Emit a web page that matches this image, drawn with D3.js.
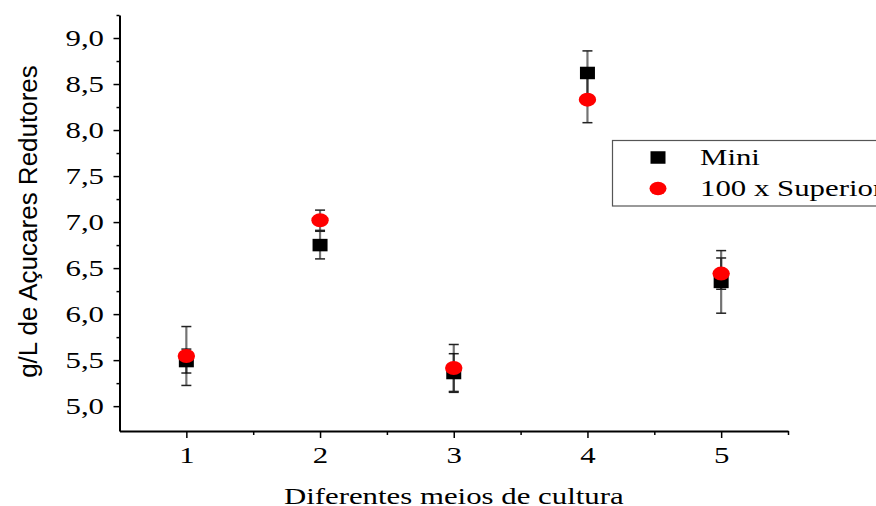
<!DOCTYPE html>
<html>
<head>
<meta charset="utf-8">
<script src="https://cdn.jsdelivr.net/npm/d3@7"></script>
<style>
  body { margin: 0; background: #fff; }
  svg { display: block; }
</style>
</head>
<body>
<script>
// Culture media on the x axis, reducing sugars (g/L) for each condition
const categories = [1, 2, 3, 4, 5];
const seriesNames = ["Mini", "100 x Superior"];
const miniValues = [5.49, 6.75, 5.36, 8.62, 6.35];
const miniErrors = [0.13, 0.15, 0.21, 0.24, 0.34];
const superiorValues = [5.545, 7.02, 5.415, 8.33, 6.44];
const superiorErrors = [0.32, 0.11, 0.255, 0.25, 0.17];
const yTicks = [5.0, 5.5, 6.0, 6.5, 7.0, 7.5, 8.0, 8.5, 9.0];
const yMinorTicks = [5.25, 5.75, 6.25, 6.75, 7.25, 7.75, 8.25, 8.75, 9.25];
const xTicks = [1, 2, 3, 4, 5];
const xMinorTicks = [1.5, 2.5, 3.5, 4.5, 5.5];
const xTitle = "Diferentes meios de cultura";
const yTitle = "g/L de Açucares Redutores";

const W = 876, H = 506;
const serif = "'Liberation Serif','Times New Roman',serif";
const sans = "'Liberation Sans',Arial,sans-serif";
const stretch = 1.34;           // wide serif lettering
const fmt = d => d3.format(".1f")(d).replace(".", ",");

const svg = d3.select("body").append("svg")
  .attr("width", W).attr("height", H);

const x = d3.scaleLinear().domain([0.5, 5.5]).range([119.5, 788]);
const y = d3.scaleLinear().domain([4.73, 9.25]).range([431, 15]);

// ---- axes ----
const x0 = x.range()[0], y0 = y.range()[0];

const yMinor = svg.append("g").attr("transform", `translate(${x0},0)`)
  .call(d3.axisLeft(y).tickValues(yMinorTicks).tickSize(3).tickSizeOuter(0).tickFormat(""));
yMinor.select(".domain").remove();

const yAxis = svg.append("g").attr("transform", `translate(${x0},0)`)
  .call(d3.axisLeft(y).tickValues(yTicks).tickSize(6).tickSizeOuter(0).tickFormat(fmt));
yAxis.selectAll("text")
  .attr("x", -15.5 / stretch)
  .attr("dy", "0.33em")
  .attr("transform", `scale(${stretch},1)`);

const xMinor = svg.append("g").attr("transform", `translate(0,${y0})`)
  .call(d3.axisBottom(x).tickValues(xMinorTicks).tickSize(4).tickSizeOuter(0).tickFormat(""));
xMinor.select(".domain").remove();

const xAxis = svg.append("g").attr("transform", `translate(0,${y0})`)
  .call(d3.axisBottom(x).tickValues(xTicks).tickSize(7).tickSizeOuter(0).tickFormat(d3.format("d")));
xAxis.selectAll("text")
  .attr("y", 32)
  .attr("dy", 0)
  .attr("transform", `scale(${stretch},1)`);

svg.selectAll(".domain").attr("stroke", "#000").attr("stroke-width", 2);
svg.selectAll(".tick line").attr("stroke", "#000").attr("stroke-width", 1.5);
svg.selectAll(".tick text")
  .attr("font-family", serif).attr("font-size", 23).attr("fill", "#000");

// ---- axis titles ----
svg.append("text")
  .attr("transform", `translate(${(x.range()[0] + x.range()[1]) / 2},504) scale(${stretch},1)`)
  .attr("text-anchor", "middle")
  .attr("font-family", serif).attr("font-size", 23).attr("fill", "#000")
  .text(xTitle);

svg.append("text")
  .attr("transform", "translate(36.5,221.5) rotate(-90)")
  .attr("text-anchor", "middle")
  .attr("font-family", sans).attr("font-size", 26).attr("fill", "#000")
  .text(yTitle);

// ---- data ----
const mini = categories.map((c, i) => ({ c, v: miniValues[i], e: miniErrors[i] }));
const superior = categories.map((c, i) => ({ c, v: superiorValues[i], e: superiorErrors[i] }));

function errorBars(data) {
  const g = svg.append("g");
  const capW = 5;
  data.forEach(d => {
    const cx = x(d.c);
    g.append("line")
      .attr("x1", cx).attr("x2", cx)
      .attr("y1", y(d.v - d.e)).attr("y2", y(d.v + d.e))
      .attr("stroke", "#000").attr("stroke-opacity", 0.55).attr("stroke-width", 2.2);
    [d.v - d.e, d.v + d.e].forEach(val => {
      g.append("line")
        .attr("x1", cx - capW).attr("x2", cx + capW)
        .attr("y1", y(val)).attr("y2", y(val))
        .attr("stroke", "#222").attr("stroke-width", 1.5);
    });
  });
}
errorBars(mini);
errorBars(superior);

const sqW = 15, sqH = 12.5;
svg.append("g").selectAll("rect").data(mini).join("rect")
  .attr("x", d => x(d.c) - sqW / 2)
  .attr("y", d => y(d.v) - sqH / 2)
  .attr("width", sqW).attr("height", sqH)
  .attr("fill", "#000");

svg.append("g").selectAll("ellipse").data(superior).join("ellipse")
  .attr("cx", d => x(d.c))
  .attr("cy", d => y(d.v))
  .attr("rx", 8.7).attr("ry", 7)
  .attr("fill", "#ff0000");

// ---- legend ----
const legend = svg.append("g");
legend.append("rect")
  .attr("x", 612.5).attr("y", 140.5)
  .attr("width", 300).attr("height", 65.5)
  .attr("fill", "#fff").attr("stroke", "#555").attr("stroke-width", 1.2);

legend.append("rect")
  .attr("x", 658 - sqW / 2).attr("y", 157.5 - 12.5 / 2)
  .attr("width", sqW).attr("height", 12.5).attr("fill", "#000");
legend.append("ellipse")
  .attr("cx", 658).attr("cy", 188.5).attr("rx", 8.5).attr("ry", 6.8)
  .attr("fill", "#ff0000");

[[seriesNames[0], 165], [seriesNames[1], 196]].forEach(([name, by]) => {
  legend.append("text")
    .attr("transform", `translate(700,${by}) scale(${stretch},1)`)
    .attr("font-family", serif).attr("font-size", 23).attr("fill", "#000")
    .text(name);
});
</script>
</body>
</html>
